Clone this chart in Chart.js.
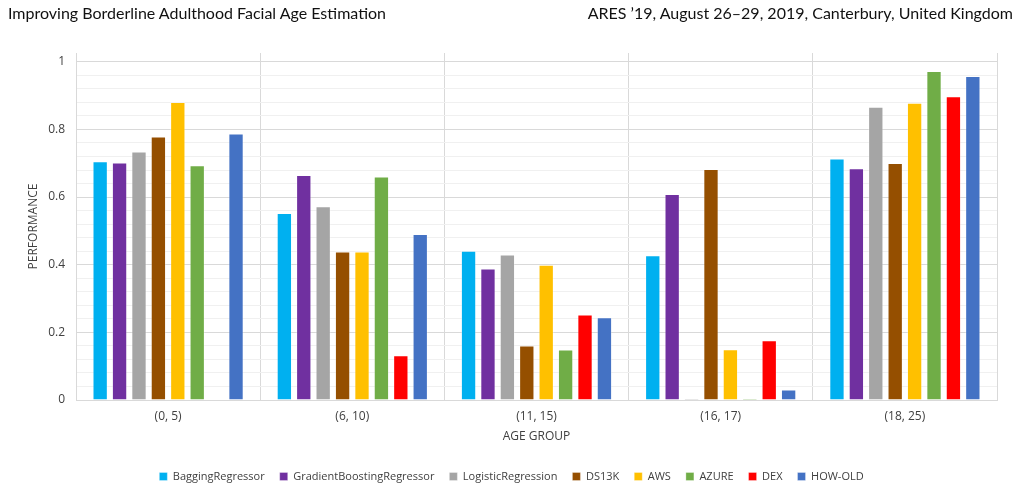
<!DOCTYPE html>
<html>
<head>
<meta charset="utf-8">
<script src="https://cdn.jsdelivr.net/npm/chart.js@4/dist/chart.umd.min.js"></script>
<style>
  html, body { margin: 0; padding: 0; background: #fff; }
  #wrap { position: relative; width: 1019px; height: 487px; overflow: hidden; }
  #chart { position: absolute; left: 0; top: 0; }
  .hdr { position: absolute; top: 3px; font-family: Lato, "Noto Sans", sans-serif; font-size: 16px; color: #111; white-space: nowrap; }
  #hdrLeft { left: 8px; }
  #hdrRight { right: 6px; }
</style>
</head>
<body>
<div id="wrap">
  <canvas id="chart" width="1019" height="487"></canvas>
  <div class="hdr" id="hdrLeft">Improving Borderline Adulthood Facial Age Estimation</div>
  <div class="hdr" id="hdrRight">ARES ’19, August 26–29, 2019, Canterbury, United Kingdom</div>
</div>
<script>
// ============================
// DATA
// ============================
const ageGroups = ['(0, 5)', '(6, 10)', '(11, 15)', '(16, 17)', '(18, 25)'];

const bagging          = [0.706, 0.553, 0.441, 0.428, 0.714];
const gradientBoosting = [0.702, 0.665, 0.389, 0.609, 0.685];
const logistic         = [0.735, 0.573, 0.430, 0.004, 0.867];
const ds13k            = [0.779, 0.439, 0.161, 0.683, 0.701];
const aws              = [0.881, 0.439, 0.400, 0.150, 0.879];
const azure            = [0.694, 0.661, 0.149, 0.004, 0.973];
const dex              = [0,     0.132, 0.253, 0.177, 0.898];
const howOld           = [0.788, 0.491, 0.245, 0.031, 0.958];

const yTickLabels = [0, 0.2, 0.4, 0.6, 0.8, 1];


// ============================
// HELPERS
// ============================
const textColor = '#404040';
const baseFont = { family: "'Open Sans', 'Liberation Sans', sans-serif", size: 11 };

function isMajor(v) {
    return yTickLabels.some(t => Math.abs(t - v) < 1e-6);
}

function series(label, data, color) {
    return {
        label: label,
        data: data,
        backgroundColor: color,
        borderColor: 'rgba(255, 255, 255, 0.3)',
        borderWidth: 1,
        categoryPercentage: 0.843,
        barPercentage: 0.79
    };
}

// shrink the legend box so the x axis keeps its room, nudge it right
const legendFit = {
    id: 'legendFit',
    beforeLayout(chart) {
        const lg = chart.legend;
        if (lg && !lg._fitWrapped) {
            const orig = lg.fit;
            lg.fit = function () {
                orig.call(this);
                this.height = 31;
            };
            lg._fitWrapped = true;
        }
    },
    afterLayout(chart) {
        const lg = chart.legend;
        if (lg) {
            lg.left += 13;
            lg.right += 13;
        }
    }
};


// ============================
// CHART
// ============================
const ctx = document.getElementById('chart');

new Chart(ctx, {
    type: 'bar',
    data: {
        labels: ageGroups,
        datasets: [
            series('BaggingRegressor', bagging, '#00B0F0'),
            series('GradientBoostingRegressor', gradientBoosting, '#7030A0'),
            series('LogisticRegression', logistic, '#A5A5A5'),
            series('DS13K', ds13k, '#954F00'),
            series('AWS', aws, '#FFC000'),
            series('AZURE', azure, '#70AD47'),
            series('DEX', dex, '#FF0000'),
            series('HOW-OLD', howOld, '#4472C4')
        ]
    },
    options: {
        responsive: false,
        animation: false,
        layout: {
            padding: { top: 53, left: 0, right: 22, bottom: 0 }
        },
        plugins: {
            legend: {
                position: 'bottom',
                labels: {
                    boxWidth: 8,
                    boxHeight: 8,
                    padding: 15,
                    color: textColor,
                    font: baseFont
                }
            },
            tooltip: { enabled: false }
        },
        scales: {
            x: {
                grid: {
                    color: '#d9d9d9',
                    drawTicks: false
                },
                border: { color: '#d9d9d9' },
                ticks: {
                    color: textColor,
                    font: { family: baseFont.family, size: 12 },
                    padding: 9
                },
                title: {
                    display: true,
                    text: 'AGE GROUP',
                    color: textColor,
                    font: { family: baseFont.family, size: 12 },
                    padding: { top: 0, bottom: 12 }
                },
                afterFit(scale) {
                    scale.height = 56;
                }
            },
            y: {
                min: 0,
                max: 1.026,
                afterBuildTicks(scale) {
                    const ticks = [];
                    for (let i = 0; i <= 25; i++) {
                        ticks.push({ value: +(i * 0.04).toFixed(2) });
                    }
                    scale.ticks = ticks;
                },
                grid: {
                    color: c => isMajor(c.tick.value) ? '#d9d9d9' : '#f0f0f0',
                    drawTicks: false
                },
                border: { color: '#d9d9d9' },
                ticks: {
                    color: textColor,
                    font: { family: baseFont.family, size: 12 },
                    padding: 11,
                    autoSkip: false,
                    callback: v => isMajor(v) ? String(+v.toFixed(1)) : ''
                },
                title: {
                    display: true,
                    text: 'PERFORMANCE',
                    color: textColor,
                    font: { family: baseFont.family, size: 12 },
                    padding: { top: 26, bottom: 0 }
                },
                afterFit(scale) {
                    scale.width = 76;
                }
            }
        }
    },
    plugins: [legendFit]
});
</script>
</body>
</html>
